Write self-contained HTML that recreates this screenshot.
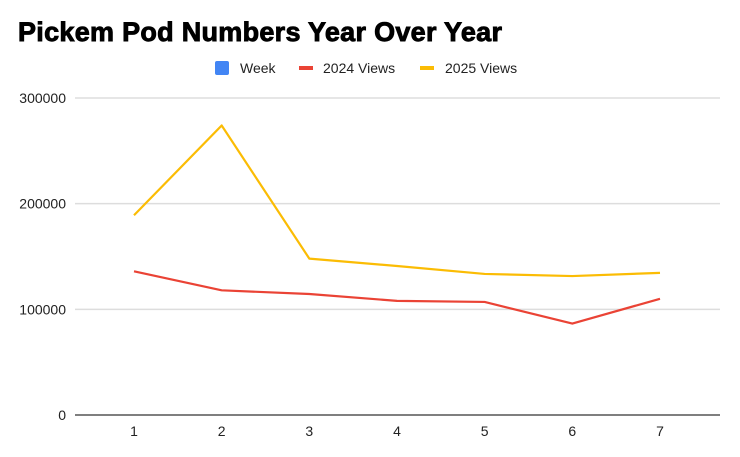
<!DOCTYPE html>
<html><head><meta charset="utf-8"><style>
body{margin:0;background:#fff;width:740px;height:457px;overflow:hidden}
svg{display:block}
text{font-family:"Liberation Sans",Arial,sans-serif}
</style></head><body>
<svg id="c" width="740" height="457">
<text x="18" y="41" font-size="27" font-weight="bold" fill="#000" stroke="#000" stroke-width="0.9" textLength="484">Pickem Pod Numbers Year Over Year</text>
<g>
<rect x="215" y="61" width="14" height="14" rx="2" fill="#4285f4"/>
<text x="240" y="73" font-size="14" fill="#222">Week</text>
<rect x="299" y="66" width="14" height="4" fill="#ea4335"/>
<text x="323" y="73" font-size="14" fill="#222">2024 Views</text>
<rect x="420" y="66" width="14" height="4" fill="#fbbc04"/>
<text x="445" y="73" font-size="14" fill="#222">2025 Views</text>
</g>
<g id="grid"></g><g id="series"></g>
</svg>
<script>
const weeks=[1,2,3,4,5,6,7];
const views2024=[136000,118000,114500,108000,107000,86500,110000];
const views2025=[189000,274000,148000,141000,133500,131500,134500];
const yTicks=[0,100000,200000,300000];
const NS="http://www.w3.org/2000/svg";
const y=v=>415-v*(317/300000);
const x=w=>134+(w-1)*(526/6);
const grid=document.getElementById('grid'),ser=document.getElementById('series');
function mk(t,a,p){const e=document.createElementNS(NS,t);for(const k in a)e.setAttribute(k,a[k]);p.appendChild(e);return e;}
yTicks.forEach(v=>{
  const l=mk('line',{x1:75,x2:720,y1:y(v),y2:y(v),stroke:v===0?'#333':'#ddd','stroke-width':v===0?1.2:1.5},grid);
  
  
  const t=mk('text',{x:66,y:y(v)+5,'text-anchor':'end','font-size':14,fill:'#222'},grid);
  t.textContent=v;
  
  
});
weeks.forEach(w=>{
  const t=mk('text',{x:x(w),y:436,'text-anchor':'middle','font-size':14,fill:'#222'},grid);
  t.textContent=w;
  
  
});
[[views2024,'#ea4335','line-2024-views'],[views2025,'#fbbc04','line-2025-views']].forEach(([d,c,n])=>{
  const p=mk('polyline',{points:d.map((v,i)=>x(weeks[i])+','+y(v)).join(' '),fill:'none',stroke:c,'stroke-width':2.2,'stroke-linejoin':'round'},ser);
  
  
});
</script>
</body></html>
